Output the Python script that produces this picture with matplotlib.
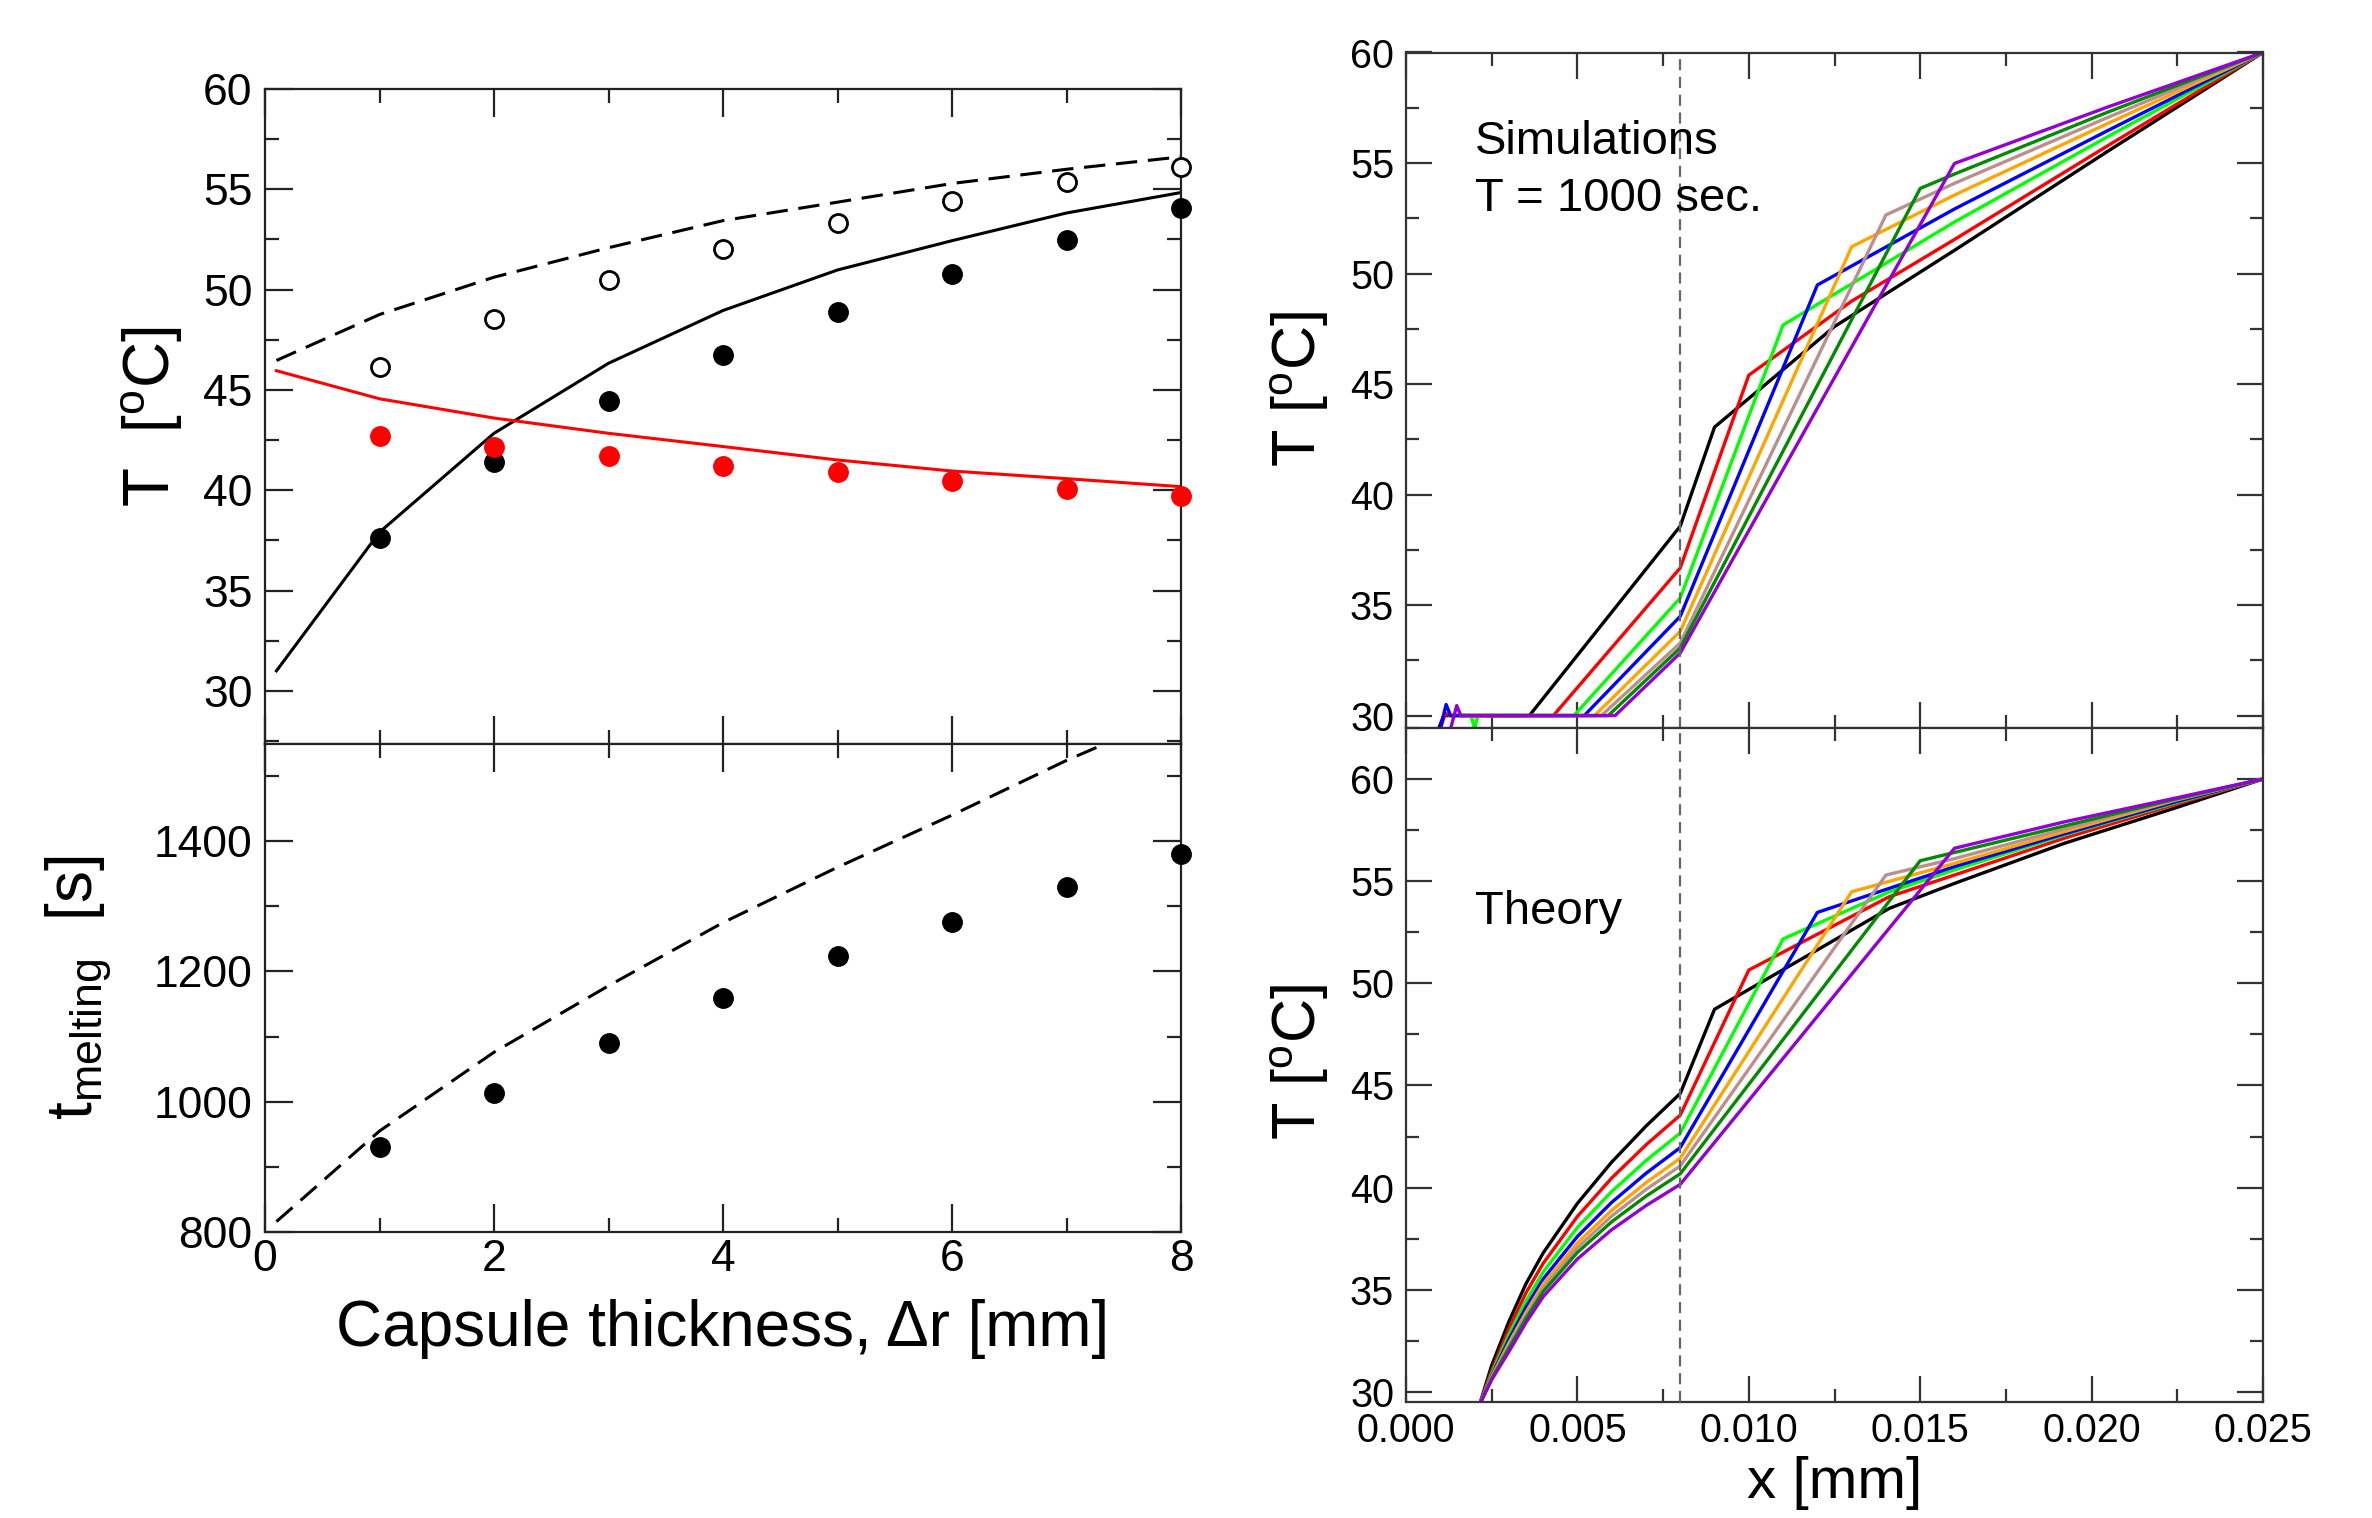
import matplotlib
matplotlib.use('Agg')
import matplotlib.pyplot as plt
from matplotlib.ticker import MultipleLocator, FormatStrFormatter

plt.rcParams['font.family'] = ['Liberation Sans', 'DejaVu Sans']
plt.rcParams['mathtext.fontset'] = 'custom'
plt.rcParams['mathtext.rm'] = 'Liberation Sans'
plt.rcParams['mathtext.it'] = 'Liberation Sans:italic'
plt.rcParams['mathtext.bf'] = 'Liberation Sans:bold'

# ---------------- data: left panels ----------------
thickness_pts = [1, 2, 3, 4, 5, 6, 7, 8]
T_open = [46.13, 48.56, 50.47, 52.04, 53.33, 54.40, 55.36, 56.13]
T_filled = [37.62, 41.40, 44.44, 46.76, 48.89, 50.80, 52.47, 54.07]
T_red_pts = [42.69, 42.18, 41.73, 41.22, 40.89, 40.44, 40.07, 39.73]

thickness_line = [0.1, 1, 2, 3, 4, 5, 6, 7, 8]
T_dashed = [46.47, 48.76, 50.62, 52.09, 53.44, 54.36, 55.29, 56.00, 56.62]
T_solid = [31.0, 37.91, 42.84, 46.33, 48.96, 50.98, 52.44, 53.82, 54.84]
T_red_line = [45.96, 44.56, 43.60, 42.84, 42.18, 41.51, 40.96, 40.58, 40.18]

t_melt_pts = [930, 1013, 1090, 1159, 1223, 1276, 1329, 1380]
t_melt_dashed = [816, 955, 1076, 1178, 1275, 1360, 1440, 1524, 1600]

# ---------------- data: simulations (top right) ----------------
sim_black_x = [0.00095, 0.0011, 0.0016, 0.0036, 0.008, 0.009, 0.0125, 0.016, 0.0205, 0.025]
sim_black_T = [29.4, 30.0, 30.0, 30.0, 38.57, 43.05, 47.6, 51.05, 55.56, 60.0]
sim_red_x = [0.001, 0.00115, 0.0013, 0.0043, 0.008, 0.010, 0.013, 0.016, 0.0205, 0.025]
sim_red_T = [29.4, 30.1, 30.0, 30.0, 36.68, 45.40, 48.75, 51.54, 55.81, 60.0]
sim_green_x = [0.0016, 0.0019, 0.002, 0.0021, 0.0049, 0.008, 0.011, 0.016, 0.0205, 0.025]
sim_green_T = [30.0, 30.0, 29.4, 30.0, 30.0, 35.32, 47.67, 52.33, 56.22, 60.0]
sim_blue_x = [0.001, 0.00117, 0.0013, 0.0052, 0.008, 0.012, 0.016, 0.0205, 0.025]
sim_blue_T = [29.4, 30.5, 30.0, 30.0, 34.49, 49.48, 52.92, 56.49, 60.0]
sim_orange_x = [0.0016, 0.0055, 0.008, 0.013, 0.016, 0.0205, 0.025]
sim_orange_T = [30.0, 30.0, 33.81, 51.21, 53.55, 56.81, 60.0]
sim_brown_x = [0.0016, 0.0057, 0.008, 0.014, 0.016, 0.0205, 0.025]
sim_brown_T = [30.0, 30.0, 33.28, 52.65, 54.08, 57.08, 60.0]
sim_dkgreen_x = [0.0016, 0.0059, 0.008, 0.015, 0.016, 0.0205, 0.025]
sim_dkgreen_T = [30.0, 30.0, 33.06, 53.85, 54.50, 57.32, 60.0]
sim_violet_x = [0.0013, 0.00148, 0.0016, 0.0061, 0.008, 0.016, 0.0205, 0.025]
sim_violet_T = [29.4, 30.45, 30.0, 30.0, 32.83, 54.98, 57.55, 60.0]

# ---------------- data: theory (bottom right) ----------------
th_black_x = [0.00215, 0.0025, 0.003, 0.0035, 0.004, 0.005, 0.006, 0.007, 0.008, 0.009, 0.0141, 0.016, 0.0192, 0.0224, 0.025]
th_black_T = [29.4, 31.3, 33.44, 35.3, 36.80, 39.23, 41.25, 43.01, 44.61, 48.73, 53.67, 54.89, 56.85, 58.56, 60.0]
th_red_x = [0.00215, 0.0025, 0.003, 0.0035, 0.004, 0.005, 0.006, 0.007, 0.008, 0.010, 0.0141, 0.016, 0.0192, 0.0224, 0.025]
th_red_T = [29.4, 31.05, 33.09, 34.85, 36.29, 38.59, 40.47, 42.09, 43.55, 50.65, 54.24, 55.30, 57.10, 58.73, 60.0]
th_green_x = [0.00215, 0.0025, 0.003, 0.0035, 0.004, 0.005, 0.006, 0.007, 0.008, 0.011, 0.0141, 0.016, 0.0192, 0.0224, 0.025]
th_green_T = [29.4, 30.9, 32.80, 34.45, 35.87, 38.05, 39.81, 41.32, 42.67, 52.17, 54.48, 55.55, 57.26, 58.81, 60.0]
th_blue_x = [0.00215, 0.0025, 0.003, 0.0035, 0.004, 0.005, 0.006, 0.007, 0.008, 0.012, 0.0141, 0.016, 0.0192, 0.0224, 0.025]
th_blue_T = [29.4, 30.8, 32.57, 34.15, 35.53, 37.61, 39.28, 40.70, 41.96, 53.47, 54.65, 55.71, 57.31, 58.86, 60.0]
th_orange_x = [0.00215, 0.0025, 0.003, 0.0035, 0.004, 0.005, 0.006, 0.007, 0.008, 0.013, 0.016, 0.0192, 0.0224, 0.025]
th_orange_T = [29.4, 30.75, 32.39, 33.9, 35.28, 37.29, 38.89, 40.24, 41.44, 54.48, 55.87, 57.42, 58.94, 60.0]
th_brown_x = [0.00215, 0.0025, 0.003, 0.0035, 0.004, 0.005, 0.006, 0.007, 0.008, 0.014, 0.016, 0.0192, 0.0224, 0.025]
th_brown_T = [29.4, 30.7, 32.27, 33.75, 35.09, 37.06, 38.61, 39.91, 41.06, 55.30, 56.10, 57.55, 58.98, 60.0]
th_dkgreen_x = [0.00215, 0.0025, 0.003, 0.0035, 0.004, 0.005, 0.006, 0.007, 0.008, 0.015, 0.0192, 0.0224, 0.025]
th_dkgreen_T = [29.4, 30.65, 32.14, 33.6, 34.91, 36.83, 38.33, 39.58, 40.68, 56.00, 57.70, 59.00, 60.0]
th_violet_x = [0.00215, 0.0025, 0.003, 0.0035, 0.004, 0.005, 0.006, 0.007, 0.008, 0.016, 0.0192, 0.0224, 0.025]
th_violet_T = [29.4, 30.6, 31.97, 33.4, 34.66, 36.51, 37.94, 39.12, 40.16, 56.61, 57.90, 59.05, 60.0]

curve_colors = ['black', '#ff0000', '#00ff00', '#0000ff', '#ffa500', '#bc8f8f', '#008b00', '#9400d3']
capsule_edge = 0.008

# ---------------- figure ----------------
W, H = 2372, 1518
fig = plt.figure(figsize=(W / 100, H / 100), dpi=100)


def box(l, t, r, b):
    return [l / W, 1 - b / H, (r - l) / W, (b - t) / H]


ax1 = fig.add_axes(box(265, 89, 1181, 743.5))
ax2 = fig.add_axes(box(265, 743.5, 1181, 1232))
ax3 = fig.add_axes(box(1406, 52.5, 2263, 727.5))
ax4 = fig.add_axes(box(1406, 727.5, 2263, 1402))


def style(ax, lw, major, minor, color, labelsize, pad, labelcolor='black'):
    ax.tick_params(which='both', direction='in', top=True, right=True, width=lw,
                   color=color, labelsize=labelsize, pad=pad, labelcolor=labelcolor)
    ax.tick_params(which='major', length=major)
    ax.tick_params(which='minor', length=minor)
    for s in ax.spines.values():
        s.set_linewidth(lw)
        s.set_color(color)


# ---- left top ----
ax1.plot(thickness_line, T_dashed, color='black', lw=2.2, dashes=(7, 3.5))
ax1.plot(thickness_line, T_solid, color='black', lw=2.2)
ax1.plot(thickness_line, T_red_line, color='#ff0000', lw=2.2)
ax1.plot(thickness_pts, T_open, 'o', ms=13, mfc='white', mec='black', mew=2.0, clip_on=False, zorder=4)
ax1.plot(thickness_pts, T_filled, 'o', ms=14, color='black', clip_on=False, zorder=4)
ax1.plot(thickness_pts, T_red_pts, 'o', ms=14, color='#ff0000', clip_on=False, zorder=4)
ax1.set_xlim(0, 8)
ax1.set_ylim(27.38, 60)
ax1.xaxis.set_major_locator(MultipleLocator(2))
ax1.xaxis.set_minor_locator(MultipleLocator(1))
ax1.yaxis.set_major_locator(MultipleLocator(5))
ax1.yaxis.set_minor_locator(MultipleLocator(2.5))
style(ax1, 1.6, 20, 10, '#222222', 32, 9)
ax1.tick_params(labelbottom=False)
ax1.set_ylabel(r'T  [$^{\mathrm{o}}$C]', fontsize=46, va='center')
ax1.yaxis.set_label_coords(-0.1234, 0.50)

# ---- left bottom ----
ax2.plot(thickness_line, t_melt_dashed, color='black', lw=2.2, dashes=(7, 3.5))
ax2.plot(thickness_pts, t_melt_pts, 'o', ms=14, color='black', clip_on=False, zorder=4)
ax2.set_xlim(0, 8)
ax2.set_ylim(800, 1550)
ax2.xaxis.set_major_locator(MultipleLocator(2))
ax2.xaxis.set_minor_locator(MultipleLocator(1))
ax2.yaxis.set_major_locator(MultipleLocator(200))
ax2.yaxis.set_minor_locator(MultipleLocator(100))
style(ax2, 1.6, 20, 10, '#222222', 32, 9)
ax2.tick_params(axis='x', pad=5)
ax2.set_ylabel(r't$_{\mathrm{melting}}$  [s]', fontsize=46, va='center')
ax2.yaxis.set_label_coords(-0.2031, 0.50)
ax2.set_xlabel('Capsule thickness, Δr [mm]', fontsize=46)
ax2.xaxis.set_label_coords(0.5, -0.137)

# ---- right top: simulations ----
sim_sets = [(sim_black_x, sim_black_T), (sim_red_x, sim_red_T), (sim_green_x, sim_green_T),
            (sim_blue_x, sim_blue_T), (sim_orange_x, sim_orange_T), (sim_brown_x, sim_brown_T),
            (sim_dkgreen_x, sim_dkgreen_T), (sim_violet_x, sim_violet_T)]
for (xs, ts), c in zip(sim_sets, curve_colors):
    ax3.plot(xs, ts, color=c, lw=2.4)
ax3.axvline(capsule_edge, color='#666666', lw=1.6, dashes=(5, 3), zorder=3)
ax3.set_xlim(0, 0.025)
ax3.set_ylim(29.46, 60)
ax3.text(0.08, 0.90, 'Simulations\nT = 1000 sec.', transform=ax3.transAxes,
         fontsize=34, va='top', ha='left', linespacing=1.38)

# ---- right bottom: theory ----
th_sets = [(th_black_x, th_black_T), (th_red_x, th_red_T), (th_green_x, th_green_T),
           (th_blue_x, th_blue_T), (th_orange_x, th_orange_T), (th_brown_x, th_brown_T),
           (th_dkgreen_x, th_dkgreen_T), (th_violet_x, th_violet_T)]
for (xs, ts), c in zip(th_sets, curve_colors):
    ax4.plot(xs, ts, color=c, lw=2.4)
ax4.axvline(capsule_edge, color='#666666', lw=1.6, dashes=(5, 3), zorder=3)
ax4.set_xlim(0, 0.025)
ax4.set_ylim(29.51, 62.52)
ax4.text(0.08, 0.759, 'Theory', transform=ax4.transAxes, fontsize=34, va='top', ha='left')

for ax in (ax3, ax4):
    ax.xaxis.set_major_locator(MultipleLocator(0.005))
    ax.xaxis.set_minor_locator(MultipleLocator(0.0025))
    ax.yaxis.set_major_locator(MultipleLocator(5))
    ax.yaxis.set_minor_locator(MultipleLocator(2.5))
    style(ax, 1.6, 19, 9.5, '#333333', 28.5, 8.5)
    ax.set_ylabel(r'T [$^{\mathrm{o}}$C]', fontsize=44, va='center')
ax3.tick_params(labelbottom=False)
ax3.yaxis.set_label_coords(-0.1237, 0.5015)
ax4.yaxis.set_label_coords(-0.1237, 0.504)
ax4.xaxis.set_major_formatter(FormatStrFormatter('%.3f'))
ax4.tick_params(axis='x', pad=7)
ax4.set_xlabel('x [mm]', fontsize=42)
ax4.xaxis.set_label_coords(0.5, -0.080)

fig.savefig('out.png', dpi=100, facecolor='white')
